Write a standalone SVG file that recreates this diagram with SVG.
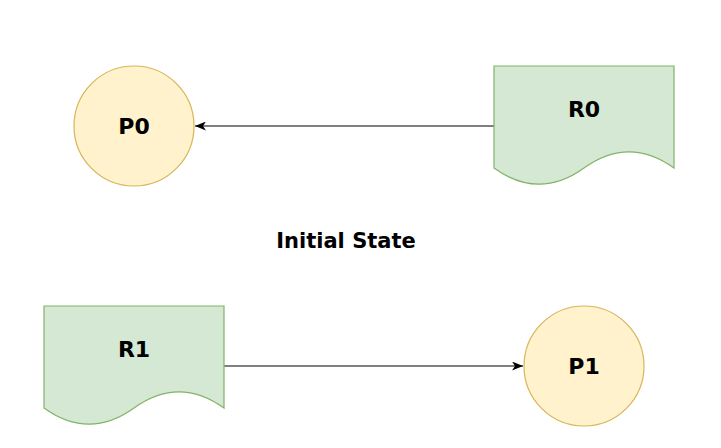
<svg xmlns="http://www.w3.org/2000/svg" width="721" height="448" viewBox="0 0 721 448">
<style>
.doc{fill:#d5e8d4;stroke:#82b366;stroke-width:1.2}
.proc{fill:#fff2cc;stroke:#d6b656;stroke-width:1.2}
.lbl{font-family:"DejaVu Sans",Verdana,sans-serif;font-weight:bold;font-size:22px;fill:#000;text-anchor:middle}
.ttl{font-size:21px}
.edge{stroke:#000;stroke-width:1;fill:none}
</style>
<defs>
<marker id="arr" markerUnits="userSpaceOnUse" markerWidth="11" markerHeight="9" viewBox="0 0 11 9" refX="11" refY="4.5" orient="auto">
<path d="M11,4.5 L0,0 L3,4.5 L0,9 Z" fill="#000"/>
</marker>
</defs>
<rect width="721" height="448" fill="#fff"/>
<g id="connectors">
<line class="edge" x1="494" y1="126" x2="195" y2="126" marker-end="url(#arr)"/>
<line class="edge" x1="224" y1="366" x2="523" y2="366" marker-end="url(#arr)"/>
</g>
<g id="P0">
<circle class="proc" cx="134" cy="126" r="60"/>
<text class="lbl" x="134" y="134">P0</text>
</g>
<g id="R0">
<path class="doc" d="M494,66 H674 V168 Q629,135.6 584,168 Q539,200.4 494,168 Z"/>
<text class="lbl" x="584" y="117">R0</text>
</g>
<g id="title">
<text class="lbl ttl" x="346" y="248">Initial State</text>
</g>
<g id="R1">
<path class="doc" d="M44,306 H224 V408 Q179,375.6 134,408 Q89,440.4 44,408 Z"/>
<text class="lbl" x="134" y="357">R1</text>
</g>
<g id="P1">
<circle class="proc" cx="584" cy="366" r="60"/>
<text class="lbl" x="584" y="374">P1</text>
</g>
</svg>
